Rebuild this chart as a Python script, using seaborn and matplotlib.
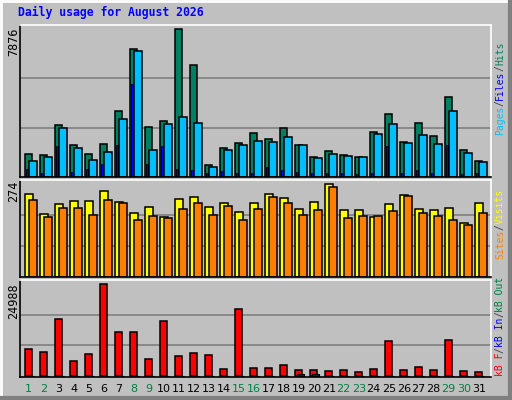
import matplotlib
matplotlib.use("Agg")
import matplotlib.pyplot as plt
import seaborn as sns
import numpy as np
from matplotlib.lines import Line2D

sns.set_style("white")
plt.rcParams['font.family'] = ['DejaVu Sans Mono']

days = list(range(1, 32))
hits = [1240,1186,2792,1722,1240,1775,3488,6806,2685,3006,7876,5950,615,1561,1829,2364,2043,2632,1722,1079,1400,1186,1079,2417,3327,1882,2899,2203,4237,1454,865]
files = [865,1079,2632,1561,919,1347,3060,6699,1454,2845,3167,2899,544,1454,1722,1936,1882,2150,1722,1026,1240,1133,1079,2310,2845,1829,2257,1775,3488,1293,812]
pages = [401,223,1632,276,437,705,1722,4933,705,1632,437,383,187,330,187,187,544,383,276,187,223,187,134,187,1632,223,383,223,1722,134,223]
visits = [244,185,214,223,223,253,220,188,206,176,229,235,206,217,191,217,244,232,200,220,274,197,197,176,214,241,200,197,203,158,217]
sites = [226,176,203,203,182,226,217,167,179,173,200,217,182,209,167,200,235,217,182,197,265,173,179,179,194,238,188,179,167,152,188]
kb_f = [7205,6384,15413,3922,5837,24988,11856,11856,4469,14866,5290,6110,5563,1733,18149,2006,2006,2827,1459,1459,1186,1459,912,1733,9394,1459,2280,1459,9667,1186,912]
kb_in = [0]*18 + [365, 365] + [0]*11
weekend = [1,2,8,9,15,16,22,23,29,30]
title = "Daily usage for August 2026"

W, H = 512, 400
fig = plt.figure(figsize=(W/100, H/100), dpi=100)
fig.patch.set_facecolor("#C0C0C0")

def fx(px): return px / W
def fy(py): return 1 - py / H

fig.add_artist(Line2D([0, 1], [fy(1), fy(1)], color="white", lw=2, transform=fig.transFigure))
fig.add_artist(Line2D([fx(1), fx(1)], [0, 1], color="white", lw=2, transform=fig.transFigure))
fig.add_artist(Line2D([0, 1], [fy(398), fy(398)], color="#808080", lw=3, transform=fig.transFigure))
fig.add_artist(Line2D([fx(510), fx(510)], [0, 1], color="#808080", lw=3, transform=fig.transFigure))

x0, x1 = 0.667, 0.667 + 471/15
def mkax(top, bot):
    ax = fig.add_axes([fx(20), fy(bot), fx(491) - fx(20), (bot - top) / H])
    ax.set_facecolor("#C0C0C0")
    ax.set_xlim(x0, x1)
    ax.set_xticks([]); ax.set_yticks([])
    for s in ["left", "bottom"]:
        ax.spines[s].set_color("black")
    for s in ["top", "right"]:
        ax.spines[s].set_color("white")
    for sp in ax.spines.values():
        sp.set_linewidth(1.2)
    return ax

d = np.array(days, dtype=float)
kw = dict(align="edge", edgecolor="black", linewidth=1.1)

ax1 = mkax(25, 177)
m1 = max(hits)
ax1.set_ylim(0, m1 * 152 / 148)
for g in (m1/3, 2*m1/3):
    ax1.axhline(g, color="#808080", lw=1.2, zorder=0)
ax1.bar(d, hits, width=0.5, color="#008060", **kw)
ax1.bar(d + 0.27, files, width=0.5, color="#00BFFF", **kw)
ax1.bar(d + 0.1, pages, width=0.12, color="#0000FF", align="edge", edgecolor="black", linewidth=0.6)

ax2 = mkax(180, 277)
m2 = max(visits)
ax2.set_ylim(0, m2 * 97 / 93)
for g in (m2/3, 2*m2/3):
    ax2.axhline(g, color="#808080", lw=1.2, zorder=0)
ax2.bar(d, visits, width=0.53, color="#FFFF00", **kw)
ax2.bar(d + 0.25, sites, width=0.53, color="#FF8000", **kw)

ax3 = mkax(280, 377)
m3 = max(kb_f)
ax3.set_ylim(-m3 * 1.3 / 91.4, m3 * 95.7 / 91.4)
for g in (m3/3, 2*m3/3):
    ax3.axhline(g, color="#808080", lw=1.2, zorder=0)
ax3.bar(d, kb_f, width=0.5, color="#FF0000", **kw)
ax3.bar(d + 0.15, kb_in, width=0.45, color="#0000FF", align="edge", edgecolor="black", linewidth=0.8)

for i in days:
    px = 20 + (i + 0.25 - x0) * 15
    fig.text(fx(px), fy(389), str(i), ha="center", va="center", fontsize=8,
             family="DejaVu Sans", color="#008040" if i in weekend else "black")

fig.text(fx(18), fy(12), title, ha="left", va="center", fontsize=8.3, fontweight="bold", color="#0000FF")

for val, ytop in ((max(hits), 28), (max(visits), 181), (max(kb_f), 283)):
    fig.text(fx(14), fy(ytop), str(val), rotation=90, ha="center", va="top", fontsize=8.5, color="black")

FS = 7.0
CW = FS * 0.602 * 100 / 72
def vlabel(pieces, ybottom):
    y = ybottom
    for txt, col in pieces:
        n = len(txt)
        fig.text(fx(500), fy(y - CW * n / 2), txt, rotation=90, ha="center", va="center",
                 fontsize=FS, color=col)
        y -= CW * n

vlabel([("Pages", "#00BFFF"), ("/", "#404040"), ("Files", "#0000FF"), ("/", "#404040"), ("Hits", "#008060")], 135)
vlabel([("Sites", "#FF8000"), ("/", "#404040"), ("Visits", "#FFFF00")], 259)
vlabel([("kB F", "#FF0000"), ("/", "#404040"), ("kB In", "#0000FF"), ("/", "#404040"), ("kB Out", "#008040")], 376)

fig.savefig("out.png", dpi=100, facecolor=fig.get_facecolor())
